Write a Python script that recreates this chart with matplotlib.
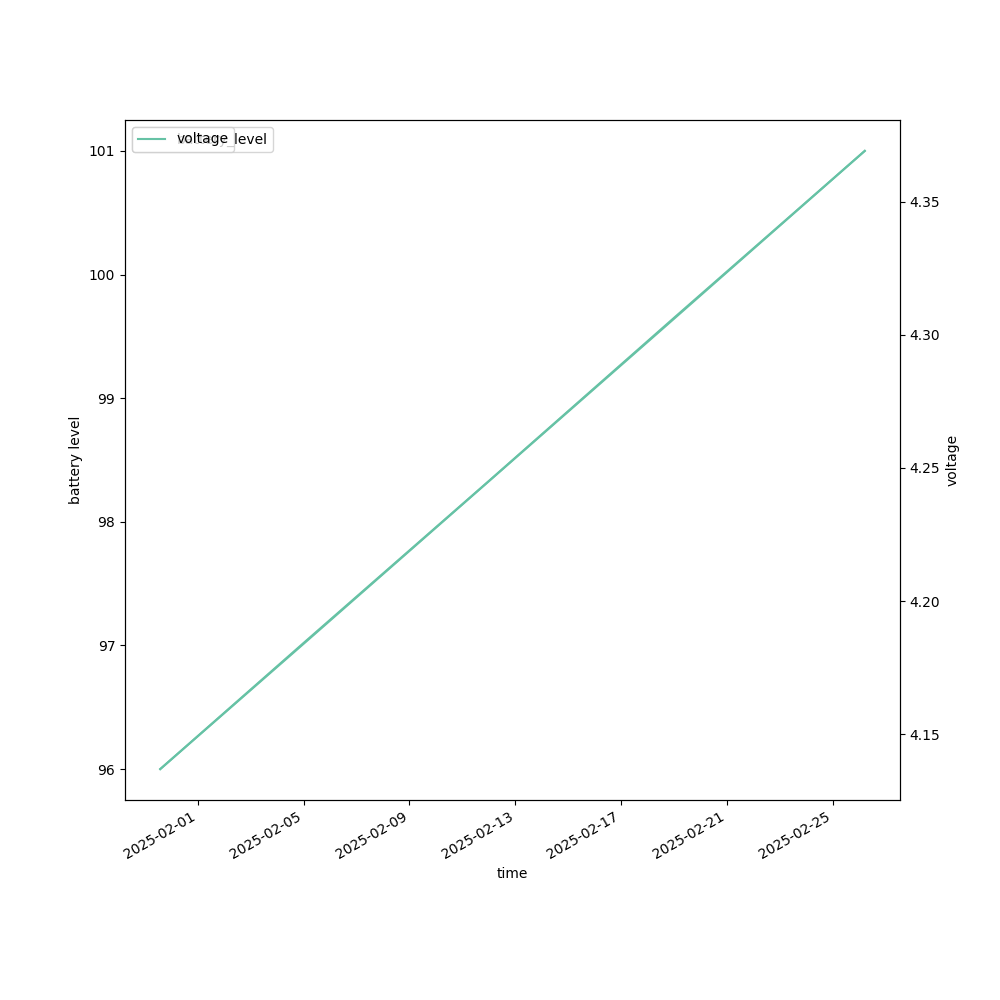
import pandas as pd
import matplotlib
matplotlib.use("Agg")
import matplotlib.pyplot as plt

# values
time = pd.to_datetime([
    "2025-01-30 14:00",
    "2025-02-05 00:00",
    "2025-02-12 00:00",
    "2025-02-19 00:00",
    "2025-02-26 05:00",
])
battery_level = [96.0, 97.02, 98.33, 99.65, 101.0]
voltage = [4.137, 4.184, 4.245, 4.306, 4.369]

color = "#66c2a5"


def main():
    fig, ax1 = plt.subplots(figsize=(10, 10), dpi=100)

    ax1.plot(time, battery_level, color=color, label="battery_level")
    ax1.set_xlabel("time")
    ax1.set_ylabel("battery level")
    ax1.legend(loc="upper left")

    ax2 = ax1.twinx()
    ax2.plot(time, voltage, color=color, label="voltage")
    ax2.set_ylabel("voltage")
    ax2.legend(loc="upper left")

    fig.autofmt_xdate()
    fig.savefig("out.png")


if __name__ == "__main__":
    main()
